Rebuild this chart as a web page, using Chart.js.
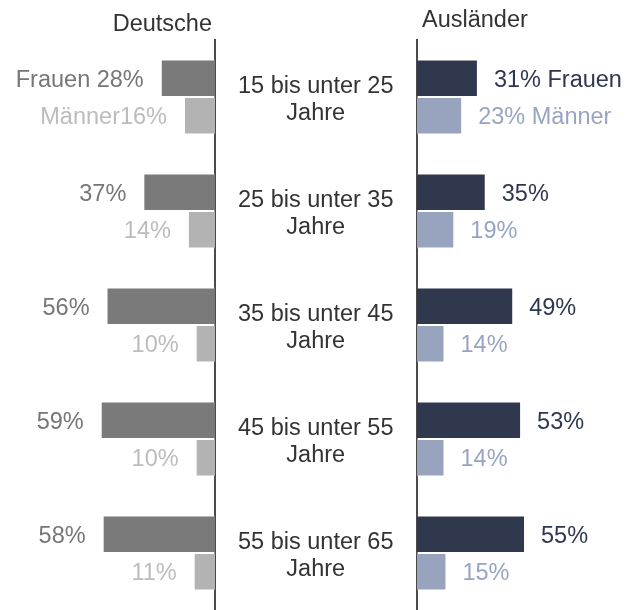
<!DOCTYPE html>
<html>
<head>
<meta charset="utf-8">
<script src="https://cdn.jsdelivr.net/npm/chart.js@4/dist/chart.umd.min.js"></script>
<style>
  body { margin: 0; background: white; }
  #wrap { position: relative; width: 635px; height: 610px; }
  canvas { position: absolute; top: 0; }
  #deutsche { left: 0; }
  #auslaender { left: 405px; }
</style>
</head>
<body>
<div id="wrap">
  <canvas id="deutsche" width="417" height="610"></canvas>
  <canvas id="auslaender" width="230" height="610"></canvas>
</div>
<script>
        var ageGroups = [
            ['15 bis unter 25', 'Jahre'],
            ['25 bis unter 35', 'Jahre'],
            ['35 bis unter 45', 'Jahre'],
            ['45 bis unter 55', 'Jahre'],
            ['55 bis unter 65', 'Jahre']
        ];
        var deFrauen = [28, 37, 56, 59, 58];
        var deMaenner = [16, 14, 10, 10, 11];
        var auFrauen = [31, 35, 49, 53, 55];
        var auMaenner = [23, 19, 14, 14, 15];

        var FONT = "'Liberation Sans', Arial, sans-serif";
        var FSIZE = 23.5;

        // value labels at the end of each bar, the first row also gets the series name
        var barLabels = {
            id: 'barLabels',
            afterDatasetsDraw: (chart, args, options) => {
                const {ctx} = chart;
                ctx.save();
                ctx.font = FSIZE + 'px ' + FONT;
                ctx.textBaseline = 'middle';
                chart.data.datasets.forEach((ds, i) => {
                    const meta = chart.getDatasetMeta(i);
                    meta.data.forEach((bar, j) => {
                        let txt = ds.data[j] + '%';
                        ctx.fillStyle = ds.labelColor;
                        if (options.side === 'left') {
                            if (j === 0) txt = ds.label + (i === 0 ? ' ' : '') + txt;
                            ctx.textAlign = 'right';
                            ctx.fillText(txt, bar.x - 17, bar.y + 2);
                        } else {
                            if (j === 0) txt = txt + ' ' + ds.label;
                            ctx.textAlign = 'left';
                            ctx.fillText(txt, bar.x + 16, bar.y + 2);
                        }
                    });
                });
                ctx.textBaseline = 'alphabetic';
                ctx.fillStyle = '#333333';
                ctx.textAlign = options.side === 'left' ? 'right' : 'left';
                ctx.fillText(options.title, options.titleX, options.titleY);
                ctx.restore();
            }
        };

        new Chart(document.getElementById('deutsche'), {
            type: 'bar',
            data: {
                labels: ageGroups,
                datasets: [{
                    label: 'Frauen',
                    data: deFrauen,
                    backgroundColor: '#7a7a7a',
                    borderColor: 'rgba(255,255,255,0.45)',
                    borderWidth: 1,
                    labelColor: '#767676'
                }, {
                    label: 'Männer',
                    data: deMaenner,
                    backgroundColor: '#b3b3b3',
                    borderColor: 'rgba(255,255,255,0.45)',
                    borderWidth: 1,
                    labelColor: '#bcbcbc'
                }]
            },
            options: {
                indexAxis: 'y',
                responsive: false,
                animation: false,
                categoryPercentage: 0.66,
                barPercentage: 1.0,
                layout: { padding: { top: 40, left: 0, right: 0, bottom: 0 } },
                plugins: {
                    legend: { display: false },
                    tooltip: { enabled: false },
                    barLabels: { side: 'left', title: 'Deutsche', titleX: 212, titleY: 31 }
                },
                scales: {
                    x: { display: false, reverse: true, min: 0, max: 111 },
                    y: {
                        position: 'right',
                        grid: { display: false, drawTicks: false },
                        border: { display: true, color: '#4a4a4a', width: 2 },
                        ticks: {
                            crossAlign: 'center',
                            padding: 23,
                            labelOffset: 3,
                            color: '#333333',
                            font: { family: FONT, size: FSIZE, lineHeight: 1.11 }
                        },
                        afterFit: (axis) => {
                            axis.width = 202;
                            axis.paddingTop = 0;
                            axis.paddingBottom = 0;
                        }
                    }
                }
            },
            plugins: [barLabels]
        });

        new Chart(document.getElementById('auslaender'), {
            type: 'bar',
            data: {
                labels: ageGroups,
                datasets: [{
                    label: 'Frauen',
                    data: auFrauen,
                    backgroundColor: '#30384e',
                    borderColor: 'rgba(255,255,255,0.35)',
                    borderWidth: 1,
                    labelColor: '#2f3750'
                }, {
                    label: 'Männer',
                    data: auMaenner,
                    backgroundColor: '#98a3be',
                    borderColor: 'rgba(255,255,255,0.45)',
                    borderWidth: 1,
                    labelColor: '#98a4c2'
                }]
            },
            options: {
                indexAxis: 'y',
                responsive: false,
                animation: false,
                categoryPercentage: 0.66,
                barPercentage: 1.0,
                layout: { padding: { top: 40, left: 0, right: 0, bottom: 0 } },
                plugins: {
                    legend: { display: false },
                    tooltip: { enabled: false },
                    barLabels: { side: 'right', title: 'Ausländer', titleX: 17, titleY: 27 }
                },
                scales: {
                    x: { display: false, min: 0, max: 111 },
                    y: {
                        position: 'left',
                        grid: { display: false, drawTicks: false },
                        border: { display: true, color: '#4a4a4a', width: 2 },
                        ticks: { display: false },
                        afterFit: (axis) => { axis.width = 12; }
                    }
                }
            },
            plugins: [barLabels]
        });
</script>
</body>
</html>
